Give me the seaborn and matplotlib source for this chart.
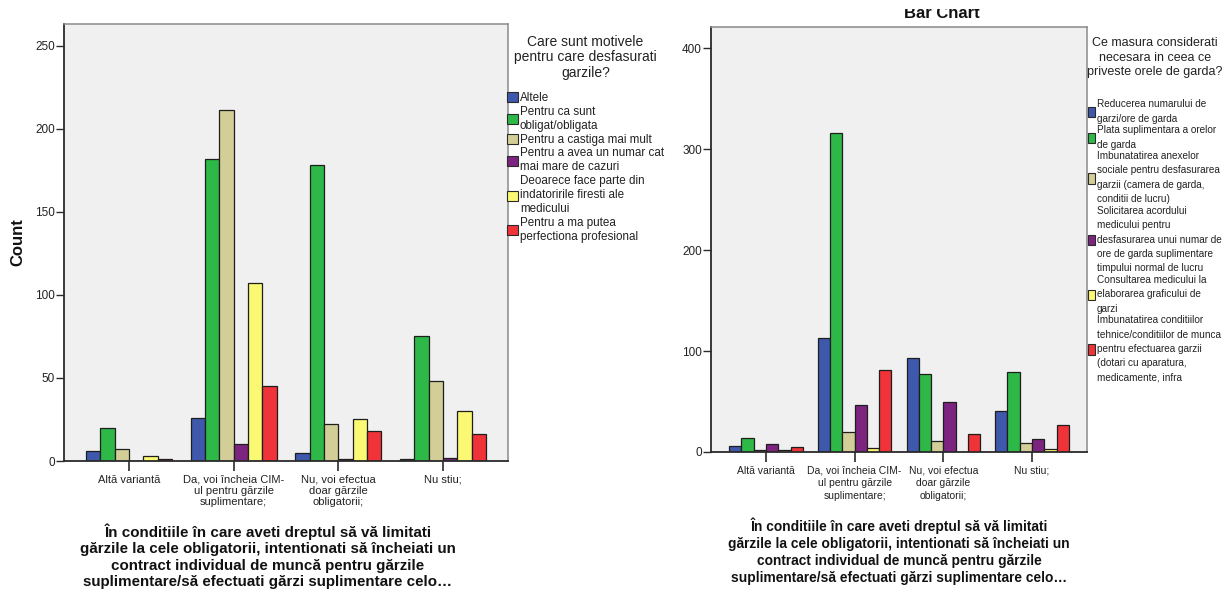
import matplotlib
matplotlib.use("Agg")
import matplotlib.pyplot as plt
from matplotlib.patches import Patch
from matplotlib.transforms import Bbox
import pandas as pd
import seaborn as sns

# ---- data -------------------------------------------------------------
categories = [
    "Altă variantă",
    "Da, voi încheia CIM-\nul pentru gărzile\nsuplimentare;",
    "Nu, voi efectua\ndoar gărzile\nobligatorii;",
    "Nu stiu;",
]

# left chart: reasons for doing on-call shifts
left_series = [
    "Altele",
    "Pentru ca sunt\nobligat/obligata",
    "Pentru a castiga mai mult",
    "Pentru a avea un numar cat\nmai mare de cazuri",
    "Deoarece face parte din\nindatoririle firesti ale\nmedicului",
    "Pentru a ma putea\nperfectiona profesional",
]
left_altele = [6, 26, 5, 1]
left_obligat = [20, 182, 178, 75]
left_castig = [7, 211, 22, 48]
left_cazuri = [0, 10, 1, 2]
left_indatoriri = [3, 107, 25, 30]
left_perfectionare = [1, 45, 18, 16]
left_legend_title = "Care sunt motivele\npentru care desfasurati\ngarzile?"

# right chart: measures considered necessary for on-call hours
right_series = [
    "Reducerea numarului de\ngarzi/ore de garda",
    "Plata suplimentara a orelor\nde garda",
    "Imbunatatirea anexelor\nsociale pentru desfasurarea\ngarzii (camera de garda,\nconditii de lucru)",
    "Solicitarea acordului\nmedicului pentru\ndesfasurarea unui numar de\nore de garda suplimentare\ntimpului normal de lucru",
    "Consultarea medicului la\nelaborarea graficului de\ngarzi",
    "Imbunatatirea conditiilor\ntehnice/conditiilor de munca\npentru efectuarea garzii\n(dotari cu aparatura,\nmedicamente, infra",
]
right_reducere = [6, 113, 93, 41]
right_plata = [14, 316, 77, 79]
right_anexe = [2, 20, 11, 9]
right_acord = [8, 47, 50, 13]
right_consultare = [2, 4, 0, 3]
right_conditii = [5, 81, 18, 27]
right_legend_title = "Ce masura considerati\nnecesara in ceea ce\npriveste orele de garda?"

x_title = ("În conditiile în care aveti dreptul să vă limitati\n"
           "gărzile la cele obligatorii, intentionati să încheiati un\n"
           "contract individual de muncă pentru gărzile\n"
           "suplimentare/să efectuati gărzi suplimentare celo…")

palette = ["#3E58AC", "#2EB848", "#D3CE97", "#7C2480", "#FBF873", "#EF3338"]


def long_table(series_names, values):
    rows = []
    for name, vals in zip(series_names, values):
        for cat, v in zip(categories, vals):
            rows.append({"cat": cat, "series": name, "count": v})
    return pd.DataFrame(rows)


left_df = long_table(left_series, [left_altele, left_obligat, left_castig,
                                   left_cazuri, left_indatoriri, left_perfectionare])
right_df = long_table(right_series, [right_reducere, right_plata, right_anexe,
                                     right_acord, right_consultare, right_conditii])

# ---- figure -----------------------------------------------------------
sns.set_style("white")
plt.rcParams["font.family"] = ["Liberation Sans", "DejaVu Sans"]

W, H = 1226, 590
fig = plt.figure(figsize=(W / 100, H / 100), dpi=100)
axL = fig.add_axes([64 / W, 1 - 461 / H, 444 / W, 437 / H])
axR = fig.add_axes([711 / W, 1 - 452 / H, 376 / W, 425 / H])


def draw_panel(ax, df, series, ylim, yticks, width, xfs, xls):
    sns.barplot(data=df, x="cat", y="count", hue="series", order=categories,
                hue_order=series, palette=palette, saturation=1, width=width,
                gap=0, edgecolor="#1e1e1e", linewidth=0.9, legend=False,
                errorbar=None, ax=ax)
    ax.set_facecolor("#F0F0F0")
    ax.set_xlim(-0.62, 3.62)
    ax.set_ylim(*ylim)
    ax.set_yticks(yticks)
    ax.set_xlabel("")
    ax.set_ylabel("")
    for side in ("left", "bottom"):
        ax.spines[side].set_color("#2a2a2a")
        ax.spines[side].set_linewidth(1.3)
    for side in ("top", "right"):
        ax.spines[side].set_color("#8a8a8a")
        ax.spines[side].set_linewidth(1.1)
    ax.tick_params(axis="y", left=True, direction="out", length=6, width=1,
                   color="#2a2a2a", labelsize=8.5, pad=0.5, labelcolor="#222222")
    ax.tick_params(axis="x", bottom=True, direction="out", length=7, width=1.2,
                   color="#2a2a2a", labelsize=xfs, pad=3, labelcolor="#222222")
    for lab in ax.get_xticklabels():
        lab.set_multialignment("center")
        lab.set_linespacing(xls)


draw_panel(axL, left_df, left_series, (0, 263), [0, 50, 100, 150, 200, 250],
           0.82, 8.0, 1.15)
draw_panel(axR, right_df, right_series, (0, 421), [0, 100, 200, 300, 400],
           0.83, 7.5, 1.3)


def add_legend(ax, series, title, x_px, y_px, fs, tfs, hl, hh, spacing, ls, tls, sep):
    handles = [Patch(facecolor=c, edgecolor="#2a2a2a", linewidth=0.8) for c in palette]
    leg = ax.legend(handles, series, title=title, loc="upper left",
                    bbox_to_anchor=(x_px / W, 1 - y_px / H),
                    bbox_transform=fig.transFigure, frameon=False,
                    fontsize=fs, title_fontsize=tfs, handlelength=hl,
                    handleheight=hh, handletextpad=0.2, labelspacing=spacing,
                    borderaxespad=0, borderpad=0)
    leg.get_title().set_multialignment("center")
    leg.get_title().set_linespacing(tls)
    leg.get_title().set_color("#222222")
    for t in leg.get_texts():
        t.set_linespacing(ls)
        t.set_color("#222222")
    leg._legend_box.sep = sep
    return leg


add_legend(axL, left_series, left_legend_title, 507, 35, 8.4, 10, 0.9, 0.95,
           0.15, 1.22, 1.12, 9)
add_legend(axR, right_series, right_legend_title, 1087, 37, 7.2, 9.0, 0.65, 1.25,
           0.15, 1.55, 1.3, 15)

# axis titles
fig.text(18 / W, 1 - 242 / H, "Count", rotation=90, ha="center", va="center",
         fontsize=12, fontweight="bold", color="#111111")
fig.text(268 / W, 1 - 523 / H, x_title, ha="center", va="top",
         multialignment="center", fontsize=10.9, fontweight="bold",
         linespacing=1.23, color="#111111")
fig.text(899 / W, 1 - 518 / H, x_title, ha="center", va="top",
         multialignment="center", fontsize=9.9, fontweight="bold",
         linespacing=1.26, color="#111111")

# chart heading, partially cut off at the top edge
head = fig.text(942 / W, 1 - 18.5 / H, "Bar Chart", ha="center", va="baseline",
                fontsize=12, fontweight="bold", color="#111111")
head.set_clip_box(Bbox.from_extents(0, 0, W, H - 9))
head.set_clip_on(True)

fig.savefig("out.png", dpi=100, facecolor="white")
